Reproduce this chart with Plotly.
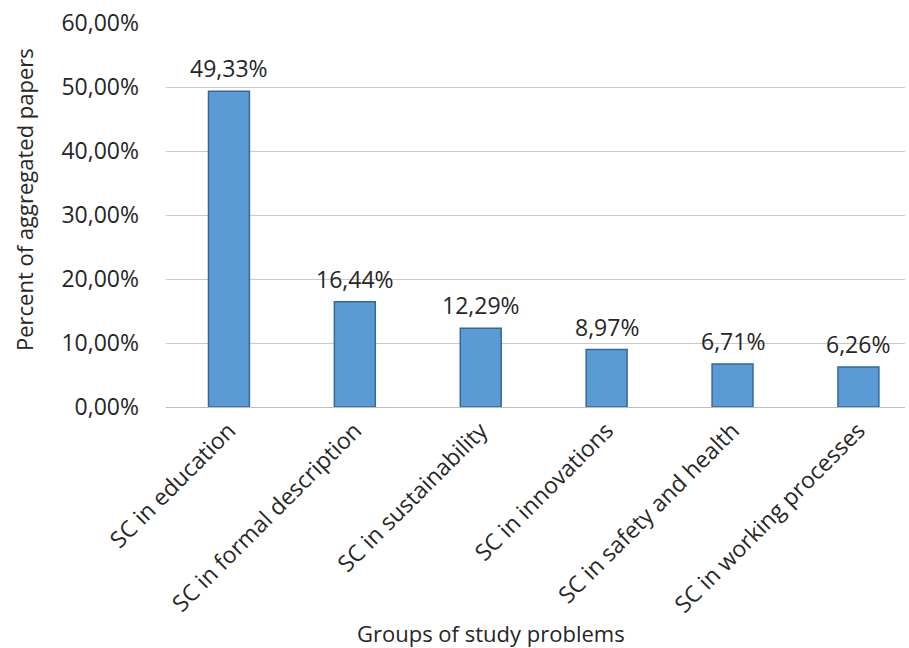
import plotly.graph_objects as go

categories = [
    "SC in education",
    "SC in formal description",
    "SC in sustainability",
    "SC in innovations",
    "SC in safety and health",
    "SC in working processes",
]
shares = [0.4933, 0.1644, 0.1229, 0.0897, 0.0671, 0.0626]
y_ticks = [0.0, 0.1, 0.2, 0.3, 0.4, 0.5, 0.6]

FONT = "Open Sans"
INK = "#262626"
x_pos = list(range(len(categories)))

W, H = 909, 648
ML, MR, MT, MB = 166, 4, 23, 241
PW, PH = W - ML - MR, H - MT - MB


def px_to_paper(px, py):
    return (px - ML) / PW, (H - MB - py) / PH


fig = go.Figure(
    go.Bar(
        x=x_pos,
        y=shares,
        width=0.325,
        marker=dict(color="#5B9BD5", line=dict(color="#35689A", width=1.5)),
        hoverinfo="y",
    )
)

# value labels sitting above each bar
for xi, v in zip(x_pos, shares):
    fig.add_annotation(
        x=xi, y=v, xref="x", yref="y",
        text=f"{v * 100:.2f}%".replace(".", ","),
        showarrow=False, yanchor="bottom", yshift=5,
        font=dict(family=FONT, size=23, color=INK),
    )

# axis titles, placed relative to the whole chart area
tx, ty = px_to_paper(491, 633)
fig.add_annotation(
    x=tx, y=ty, xref="paper", yref="paper",
    text="Groups of study problems", showarrow=False,
    xanchor="center", yanchor="middle",
    font=dict(family=FONT, size=22, color=INK),
)
tx, ty = px_to_paper(24, 200)
fig.add_annotation(
    x=tx, y=ty, xref="paper", yref="paper",
    text="Percent of aggregated papers", showarrow=False, textangle=-90,
    xanchor="center", yanchor="middle",
    font=dict(family=FONT, size=22, color=INK),
)

fig.update_layout(
    width=W,
    height=H,
    margin=dict(l=ML, r=MR, t=MT, b=MB),
    paper_bgcolor="white",
    plot_bgcolor="white",
    separators=", ",
    showlegend=False,
    font=dict(family=FONT, size=23, color=INK),
)

fig.update_xaxes(
    tickmode="array",
    tickvals=x_pos,
    ticktext=categories,
    tickangle=-45,
    range=[-0.5, 5.37],
    showgrid=False,
    showline=True,
    linecolor="#BDBDBD",
    linewidth=1,
    ticks="",
    ticklabelstandoff=0,
    tickfont=dict(family=FONT, size=23, color=INK),
)

fig.update_yaxes(
    range=[0, 0.6],
    tickvals=y_ticks,
    tickformat=".2%",
    showgrid=True,
    gridcolor="#C9C9C9",
    gridwidth=1,
    zeroline=False,
    showline=False,
    ticks="",
    ticklabelstandoff=26,
    tickfont=dict(family=FONT, size=23, color=INK),
)

fig.write_html("out.html")
